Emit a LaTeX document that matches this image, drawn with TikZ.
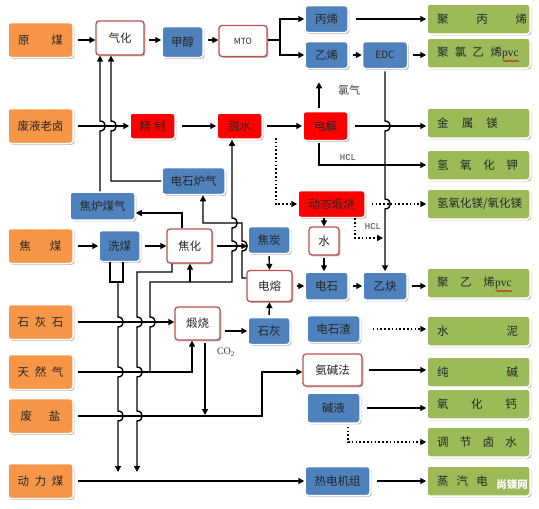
\documentclass[tikz,border=0pt]{standalone}
\usepackage{fontspec}
\setmainfont{Noto Sans CJK SC}
\newfontfamily\monofnt{Liberation Mono}
\newfontfamily\seriffnt{Liberation Serif}
\usetikzlibrary{arrows.meta,shadows,calc,decorations.pathmorphing}
\definecolor{orF}{HTML}{F79646}
\definecolor{grF}{HTML}{9BBB59}
\definecolor{blF}{HTML}{4F81BD}
\definecolor{rdF}{HTML}{FF0000}
\definecolor{rdB}{HTML}{C0504D}
\tikzset{
  base/.style={rounded corners=3pt, inner sep=0pt, font=\fontsize{11.5}{13}\selectfont, text=black!85,
    drop shadow={shadow xshift=1.4pt, shadow yshift=-1.4pt, opacity=0.28, fill=black}},
  bsize/.style 2 args={minimum width=#1pt, minimum height=#2pt},
  orb/.style={base, fill=orF, draw=white, line width=1.5pt, bsize={65}{35}},
  grb/.style={base, fill=grF, draw=white, line width=1.5pt, bsize={103}{30}, text width=83pt, align=left},
  blb/.style={base, fill=blF, draw=white, line width=1.5pt},
  rdb/.style={base, fill=rdF, draw=white, line width=1.5pt},
  whb/.style={base, fill=white, draw=rdB, line width=1.3pt},
  ln/.style={line width=1.4pt, draw=black},
  ar/.style={ln, -{Triangle[length=6pt,width=6pt]}},
  sg/.style={shorten <=#1},
  dtar/.style={line width=1.6pt, dash pattern=on 1.6pt off 2.2pt, -{Triangle[length=6pt,width=6pt]}},
  bd/.style args={#1/#2}{insert path={-- (#1,#2-5) .. controls (#1+7,#2-5) and (#1+7,#2+5) .. (#1,#2+5)}},
  bu/.style args={#1/#2}{insert path={-- (#1,#2+5) .. controls (#1+7,#2+5) and (#1+7,#2-5) .. (#1,#2-5)}},
  lbl/.style={inner sep=0pt, text=black!75, font=\fontsize{11}{13}\selectfont},
  monol/.style={lbl, font=\monofnt\fontsize{9}{10}\selectfont},
  wavy/.style={draw=red!80!black, line width=0.5pt, decorate, decoration={snake, amplitude=0.7pt, segment length=2.6pt}},
}
\begin{document}
\begin{tikzpicture}[x=1pt,y=-1pt]
\fill[white] (0,0) rectangle (539,509);
\useasboundingbox (0,0) rectangle (539,509);
% left column
\node[orb] (yuanmei) at (40.5,40) {\makebox[45pt][s]{原\hfill 煤}};
\node[orb] (feiye) at (40.5,126) {废液老卤};
\node[orb] (jiaomei) at (40.5,246) {\makebox[42pt][s]{焦\hfill 煤}};
\node[orb] (shihuishi) at (40.5,322) {\makebox[46pt][s]{石\hfill 灰\hfill 石}};
\node[orb] (tianran) at (40.5,372) {\makebox[46pt][s]{天\hfill 然\hfill 气}};
\node[orb] (feiyan) at (40.5,416) {\makebox[40pt][s]{废\hfill 盐}};
\node[orb] (dongli) at (40.5,481) {\makebox[46pt][s]{动\hfill 力\hfill 煤}};
% right column
\node[grb] (jbx) at (478.5,19) {\makebox[90pt][s]{聚\hfill 丙\hfill 烯}};
\node[grb] (jlyx) at (478.5,53) {\makebox[65pt][s]{聚\hfill 氯\hfill 乙\hfill 烯}{\seriffnt pvc}};
\node[grb] (jsm) at (478.5,123) {\makebox[61pt][s]{金\hfill 属\hfill 镁}};
\node[grb] (qyhj) at (478.5,165) {\makebox[81pt][s]{氢\hfill 氧\hfill 化\hfill 钾}};
\node[grb] (qymg) at (478.5,204) {\mbox{氢氧化镁/氧化镁}};
\node[grb] (jyx) at (478.5,283) {\makebox[58pt][s]{聚\hfill 乙\hfill 烯}{\seriffnt pvc}};
\node[grb] (shuini) at (478.5,331) {\makebox[81pt][s]{水\hfill 泥}};
\node[grb] (chunjian) at (478.5,372) {\makebox[81pt][s]{纯\hfill 碱}};
\node[grb] (yhg) at (478.5,404) {\makebox[80pt][s]{氧\hfill 化\hfill 钙}};
\node[grb] (tjls) at (478.5,442) {\makebox[80pt][s]{调\hfill 节\hfill 卤\hfill 水}};
\node[grb] (zqd) at (478.5,481) {\makebox[51pt][s]{蒸\hfill 汽\hfill 电}};
% spell-check underlines
\draw[wavy] (503,61) -- (519,61);
\draw[wavy] (496,291) -- (512,291);
% middle nodes
\node[whb, bsize={48}{34}] (qihua) at (120,38) {气化};
\node[blb, bsize={41}{31}] (jiachun) at (182.5,42) {甲醇};
\node[whb, bsize={48}{31}, font=\fontsize{8.5}{10}\selectfont] (mto) at (243,41) {MTO};
\node[blb, bsize={43}{27}] (bingxi) at (326.5,19) {丙烯};
\node[blb, bsize={43}{27}] (yixi) at (326.5,55) {乙烯};
\node[blb, bsize={45}{27}, font=\fontsize{10}{12}\selectfont] (edc) at (385,55) {EDC};
\node[rdb, bsize={45}{26}] (jingzhi) at (152.5,126) {精\hspace{3pt}制};
\node[rdb, bsize={45}{26}] (tuoshui) at (239.5,126) {脱水};
\node[rdb, bsize={45}{29}] (dianjie) at (325.5,126) {电解};
\node[rdb, bsize={67}{27}] (dongtai) at (331.5,204) {动态煅烧};
\node[whb, bsize={30}{28}] (shui) at (324,241) {水};
\node[blb, bsize={63}{27}] (dslq) at (193.5,181) {电石炉气};
\node[blb, bsize={65}{28}] (jlmq) at (102.5,206) {焦炉煤气};
\node[blb, bsize={41}{31}] (ximei) at (119.5,246) {洗煤};
\node[whb, bsize={45}{34}] (jiaohua) at (189.5,246) {焦化};
\node[blb, bsize={42}{27}] (jiaotan) at (269,240) {焦炭};
\node[whb, bsize={45}{31}] (dianrong) at (269.5,286) {电熔};
\node[blb, bsize={43}{28}] (dianshi) at (326.5,286) {电石};
\node[blb, bsize={44}{28}] (yique) at (385,286) {乙炔};
\node[blb, bsize={42}{27}] (shihui) at (269,331) {石灰};
\node[whb, bsize={45}{33}] (duanshao) at (197.5,323.5) {煅烧};
\node[blb, bsize={53}{27}] (dsz) at (333.5,329) {电石渣};
\node[whb, bsize={59}{32}] (anjian) at (332.5,370) {氨碱法};
\node[blb, bsize={53}{30}] (jianye) at (333.5,408) {碱液};
\node[blb, bsize={65}{29}] (rdjz) at (337.5,481) {热电机组};
% labels
\node[lbl] (lcl) at (349,90) {氯气};
\node[monol] (hcl1) at (348,158) {HCL};
\node[monol] (hcl2) at (373,227) {HCL};
\node[lbl, font=\seriffnt\fontsize{10}{12}\selectfont] (co2) at (226,352) {CO\textsubscript{2}};
% coordinates
\coordinate (br) at (280,40);
\coordinate (dts) at (276,138);
\coordinate (hclend) at (383,238);
\coordinate (tj) at (150,372);
\coordinate (d1) at (118,472);
\coordinate (d2) at (137,472);
\coordinate (co2end) at (205,415);
% row 1
\draw[ar, sg=4pt] (yuanmei.east) -- (qihua.west |- yuanmei);
\draw[ar, sg=4pt] (qihua.east |- yuanmei) -- (jiachun.west |- yuanmei);
\draw[ar, sg=4pt] (jiachun.east |- yuanmei) -- (mto.west |- yuanmei);
\draw[ln] (mto.east |- yuanmei) -- (br);
\draw[ar] (br) |- (bingxi.west);
\draw[ar] (br) |- (yixi.west);
\draw[ar, sg=7pt] (bingxi.east) -- (jbx.west |- bingxi);
\draw[ar, sg=4pt] (yixi.east) -- (edc.west);
\draw[ar, sg=5pt] (edc.east) -- (jlyx.west |- edc);
% row 2
\draw[ar, sg=4pt] (feiye.east) -- (jingzhi.west);
\draw[ar, sg=6pt] (jingzhi.east) -- (tuoshui.west);
\draw[ar, sg=4pt] (tuoshui.east) -- (dianjie.west);
\draw[ar, sg=6pt] (dianjie.east) -- (jsm.west |- dianjie);
\draw[ar, sg=3pt, shorten >=13pt] ($(dianjie.north)+(-6.5,0)$) -- ($(yixi.south)+(-7.5,0)$);
\draw[ar, sg=2pt] ($(dianjie.south)+(-6.5,0)$) |- (qyhj.west);
\draw[ar, sg=2pt] (edc.south) [bd=385/126] [bd=385/204] -- (yique.north);
\draw[dtar] (dts) |- (dongtai.west);
\draw[dtar, sg=6pt] (dongtai.east) -- (qymg.west |- dongtai);
\draw[ar] (dongtai.south -| shui.north) -- (shui.north);
\draw[dtar] ($(dongtai.south)+(23.5,0)$) |- (hclend);
% coke / gas
\draw[ar, sg=4pt] (jiaomei.east) -- (ximei.west);
\draw[ar, sg=4pt] (ximei.east) -- (jiaohua.west);
\draw[ar, sg=4pt] (jiaohua.east) -- (jiaohua.east -| jiaotan.west);
\draw[ar] ($(jiaohua.north)+(-7.5,0)$) |- ($(jlmq.east)+(0,7)$);
\draw[ar] (jlmq.north -| 100,0) [bu=100/126] -- (qihua.south -| 100,0);
\draw[ar] (dslq.west) -- (111,0 |- dslq.west) [bu=111/126] -- (qihua.south -| 111,0);
\draw[ar] ($(dianrong.west)+(0,-8)$) -- (242,278) [bu=242/246] -- (242,223) -- (203,223) -- ($(dslq.south)+(9.5,0)$);
% natural gas
\draw[ar, sg=4pt] (tianran.east) -- (192,372) -- (duanshao.south -| 192,0);
\draw[ar] (tj) [bu=150/322] -- (150,282) -- (232,282) [bu=232/246] [bu=232/223] -- (tuoshui.south -| 232,0);
\draw[ar] (190,282) -- (jiaohua.south -| 190,0);
% washed coal
\draw[ln] ($(ximei.south)+(-9.5,0)$) -- (110,282) -- (123,282) -- ($(ximei.south)+(3.5,0)$);
\draw[ar] (118,282) [bd=118/322] [bd=118/372] [bd=118/416] -- (d1);
\draw[ar] ($(jiaohua.south)+(-17.5,0)$) |- (137,272) [bd=137/322] [bd=137/372] [bd=137/416] -- (d2);
% limestone
\draw[ar, sg=4pt] (shihuishi.east) -- (shihuishi.east -| duanshao.west);
\draw[ar, sg=4pt] (shihui.west -| duanshao.east) -- (shihui.west);
\draw[ar, sg=2pt] (shihui.north) -- (dianrong.south);
\draw[ar, sg=2pt] (jiaotan.south) -- (dianrong.north);
\draw[ar, sg=2pt] (shui.south) -- (shui.south |- dianshi.north);
\draw[ar, sg=4pt] (dianrong.east) -- (dianshi.west);
\draw[ar, sg=4pt] (dianshi.east) -- (yique.west);
\draw[ar, sg=4pt] (yique.east) -- (yique.east -| jyx.west);
\draw[dtar, sg=12pt] (dsz.east) -- (dsz.east -| shuini.west);
\draw[ar, sg=2pt] ($(duanshao.south)+(7.5,0)$) -- (co2end);
\draw[ar, sg=4pt] (feiyan.east) -- (262,416) -- (262,372) -- (anjian.west |- 262,372);
\draw[ar, sg=6pt] (anjian.east) -- (anjian.east -| chunjian.west);
\draw[ar, sg=6pt] (jianye.east) -- (jianye.east -| yhg.west);
\draw[dtar, sg=3pt] ($(jianye.south)+(14.5,0)$) |- (tjls.west);
\draw[ar, sg=4pt] (dongli.east) -- (dongli.east -| rdjz.west);
\draw[ar, sg=6pt] (rdjz.east) -- (rdjz.east -| zqd.west);
% watermark
\node[font=\bfseries\fontsize{10.5}{12}\selectfont, text=white] (wm) at (512,485) {尚镁网};
\end{tikzpicture}
\end{document}
